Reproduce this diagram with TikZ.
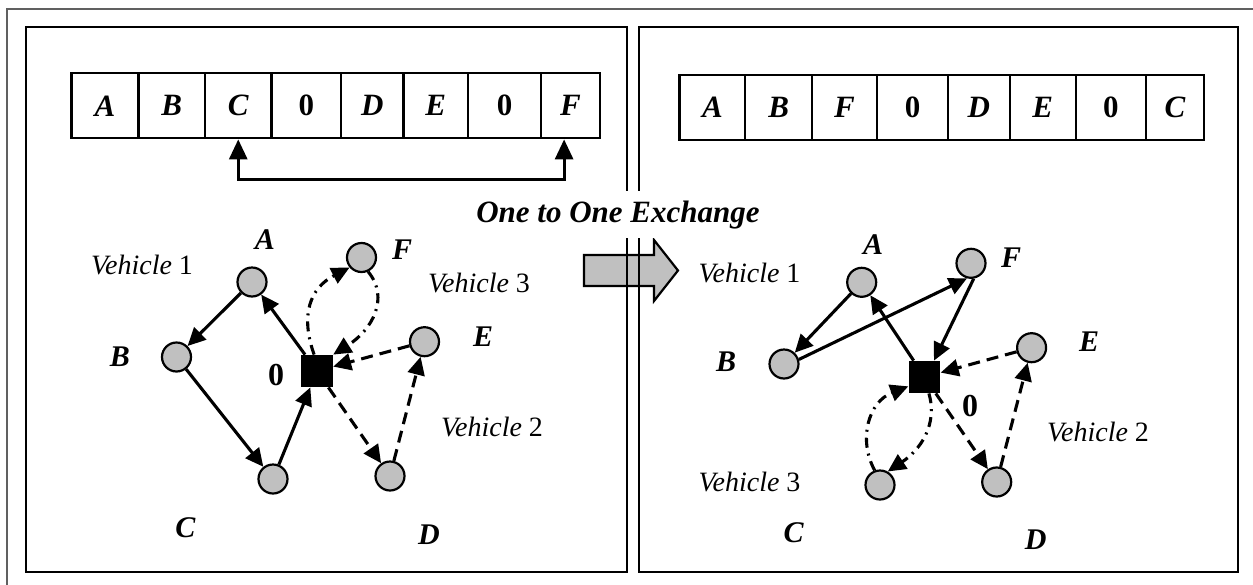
\documentclass[tikz,border=0pt]{standalone}
\usepackage{fontspec}
\setmainfont{Liberation Serif}
\usepackage{xcolor}
\usepackage{tikz}
\usetikzlibrary{arrows.meta}
\definecolor{stopgray}{HTML}{C0C0C0}
\definecolor{framegray}{HTML}{606060}
\tikzset{
  panel/.style={draw=black, line width=1.1pt},
  outer/.style={draw=framegray, line width=0.9pt},
  cell/.style={draw=black, line width=1.1pt, minimum height=32.5pt, inner sep=0pt, font=\fontsize{15.5}{17}\selectfont\bfseries},
  stop/.style={circle, draw=black, fill=stopgray, line width=1.1pt, minimum size=14.5pt, inner sep=0pt},
  depot/.style={rectangle, fill=black, minimum width=15.8pt, minimum height=16pt, inner sep=0pt},
  lab/.style={font=\fontsize{15}{17}\selectfont\bfseries\itshape},
  zero/.style={font=\fontsize{16}{18}\selectfont\bfseries},
  veh/.style={font=\fontsize{14}{16}\selectfont},
  route/.style={line width=1.55pt, -{Triangle[length=9pt,width=8.5pt]}},
  dashroute/.style={route, dash pattern=on 6pt off 3.5pt},
  dotroute/.style={route, dash pattern=on 5pt off 3pt on 1pt off 3pt},
  swapline/.style={line width=1.5pt, {Triangle[length=10pt,width=9pt]}-{Triangle[length=10pt,width=9pt]}},
  bigarrow/.style={draw=black, fill=stopgray, line width=1.1pt, line join=miter},
}

\begin{document}
\begin{tikzpicture}[x=0.5pt, y=-0.5pt]
  \useasboundingbox (0,0) rectangle (1253,584);
  \draw[outer] (7,600) -- (7,9) -- (1270,9);

  % exchange arrow under the panel borders
  \draw[bigarrow] (584,255) -- (654,255) -- (654,240) -- (678,270.5) -- (654,301) -- (654,286) -- (584,286) -- cycle;

  \draw[panel] (26,27) rectangle (627,572);
  \draw[panel] (639,27) rectangle (1238,572);

  % route strings
  \foreach \xa/\xb/\t [count=\i] in {71.5/138.5/\textit{A}, 138.5/205/\textit{B}, 205/271.5/\textit{C}, 271.5/341/0,
      341/403.5/\textit{D}, 403.5/468/\textit{E}, 468/541/0, 541/600/\textit{F}} {
    \pgfmathsetmacro\w{(\xb-\xa)/2}
    \node[cell, minimum width=\w pt] (L\i) at ({(\xa+\xb)/2},105.8) {\t};
  }
  \foreach \xa/\xb/\t [count=\i] in {679.4/745.3/\textit{A}, 745.3/812/\textit{B}, 812/877/\textit{F}, 877/948/0,
      948/1009.6/\textit{D}, 1009.6/1075.8/\textit{E}, 1075.8/1146/0, 1146/1204.3/\textit{C}} {
    \pgfmathsetmacro\w{(\xb-\xa)/2}
    \node[cell, minimum width=\w pt] (R\i) at ({(\xa+\xb)/2},107.5) {\t};
  }
  \draw[swapline] (L3.south) -- ++(0,40) -| ([xshift=-3.2pt]L8.south);

  \node[lab, fill=white, inner xsep=3pt, inner ysep=4.5pt, anchor=base, font=\fontsize{15.5}{17}\selectfont\bfseries\itshape] (swaplabel) at (618,222) {One to One Exchange};

  % left graph
  \node[stop] (a1) at (252,282) {};
  \node[stop] (f1) at (361.5,257.5) {};
  \node[stop] (b1) at (176.5,357) {};
  \node[stop] (c1) at (273,479) {};
  \node[stop] (d1) at (390,476) {};
  \node[stop] (e1) at (424.5,341.7) {};
  \node[depot] (o1) at (317,371) {};

  \node[lab] (la1) at (265,240) {A};
  \node[lab] (lf1) at (402,250) {F};
  \node[lab] (lb1) at (120,357) {B};
  \node[zero] (lo1) at (276,375) {0};
  \node[lab] (le1) at (483,337) {E};
  \node[lab] (lc1) at (185.5,528) {C};
  \node[lab] (ld1) at (429,535) {D};
  \node[veh] (v11) at (142,265) {\textit{Vehicle} 1};
  \node[veh] (v31) at (479,283) {\textit{Vehicle} 3};
  \node[veh] (v21) at (492,427) {\textit{Vehicle} 2};

  \draw[route] (o1) -- (a1);
  \draw[route] (a1) -- (b1);
  \draw[route] (b1) -- (c1);
  \draw[route] (c1) -- (o1);
  \draw[dashroute] (o1) -- (d1);
  \draw[dashroute] (d1) -- (e1);
  \draw[dashroute] (e1) -- (o1);
  \draw[dotroute] (o1.100) .. controls (300,315) and (310,288) .. (f1.220);
  \draw[dotroute] (f1.-65) .. controls (390,298) and (372,330) .. (o1.north east);

  % right graph
  \node[stop] (a2) at (861.7,282.3) {};
  \node[stop] (f2) at (971,263.3) {};
  \node[stop] (b2) at (784,364) {};
  \node[stop] (c2) at (880,485) {};
  \node[stop] (d2) at (996.7,482) {};
  \node[stop] (e2) at (1031.6,347.7) {};
  \node[depot] (o2) at (924.5,377) {};

  \node[lab] (la2) at (873,245) {A};
  \node[lab] (lf2) at (1011,258) {F};
  \node[lab] (lb2) at (726,362) {B};
  \node[zero] (lo2) at (970,406) {0};
  \node[lab] (le2) at (1089,342) {E};
  \node[lab] (lc2) at (793.5,533) {C};
  \node[lab] (ld2) at (1035.7,540) {D};
  \node[veh] (v12) at (749.5,273) {\textit{Vehicle} 1};
  \node[veh] (v22) at (1098,432) {\textit{Vehicle} 2};
  \node[veh] (v32) at (749.5,482) {\textit{Vehicle} 3};

  \draw[route] (o2) -- (a2);
  \draw[route] (a2) -- (b2);
  \draw[route] (b2.17) -- (f2.255);
  \draw[route] (f2.-80) -- (o2.60);
  \draw[dashroute] (o2) -- (d2);
  \draw[dashroute] (d2) -- (e2);
  \draw[dashroute] (e2) -- (o2);
  \draw[dotroute] (o2.-75) .. controls (938,425) and (920,450) .. (c2.60);
  \draw[dotroute] (c2.110) .. controls (858,440) and (868,402) .. (o2.-150);
\end{tikzpicture}
\end{document}
